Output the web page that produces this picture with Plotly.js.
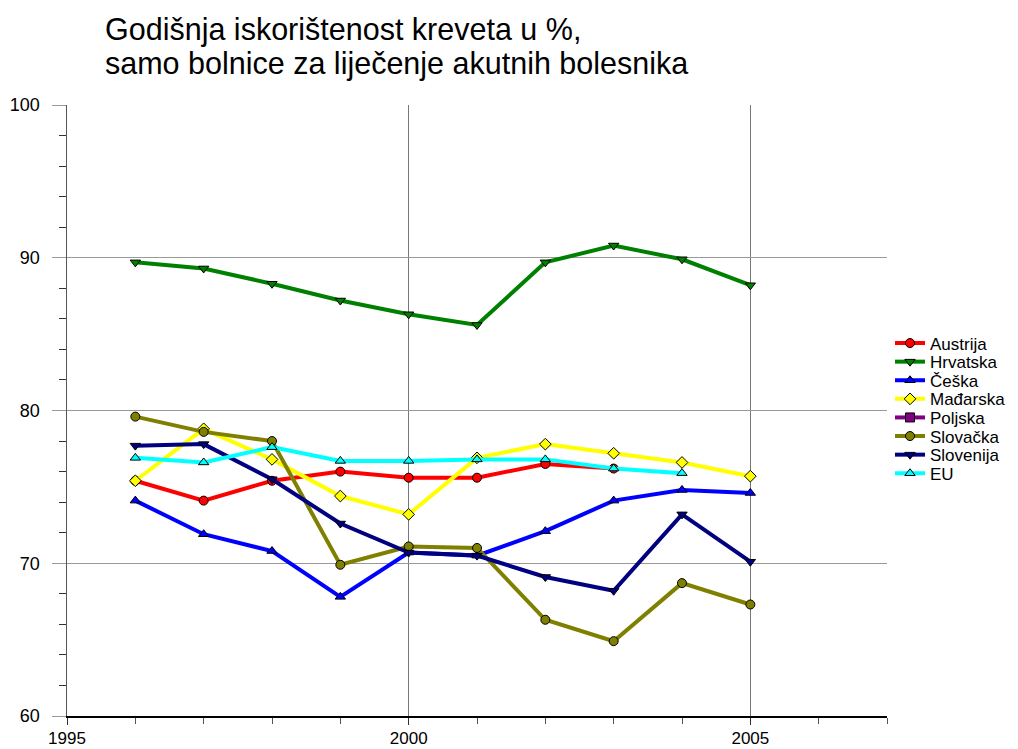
<!DOCTYPE html>
<html>
<head>
<meta charset="utf-8">
<script src="https://cdn.plot.ly/plotly-3.0.1.min.js"></script>
<style>html,body{margin:0;padding:0;background:#fff;}#chart{width:1018px;height:749px;}</style>
</head>
<body>
<div id="chart"></div>
<script>
const years = [1996, 1997, 1998, 1999, 2000, 2001, 2002, 2003, 2004, 2005];
const austrija  = [75.4, 74.1, 75.4, 76.0, 75.6, 75.6, 76.5, 76.2, null, null];
const hrvatska  = [89.7, 89.3, 88.3, 87.2, 86.3, 85.6, 89.7, 90.8, 89.9, 88.2];
const ceska     = [74.1, 71.9, 70.8, 67.8, 70.7, 70.5, 72.1, 74.1, 74.8, 74.6];
const madarska  = [75.4, 78.8, 76.8, 74.4, 73.2, 76.9, 77.8, 77.2, 76.6, 75.7];
const poljska   = [null, null, null, null, null, null, null, null, null, null];
const slovacka  = [79.6, 78.6, 78.0, 69.9, 71.1, 71.0, 66.3, 64.9, 68.7, 67.3];
const slovenija = [77.7, 77.8, 75.5, 72.6, 70.7, 70.5, 69.1, 68.2, 73.2, 70.1];
const eu        = [76.9, 76.6, 77.6, 76.7, 76.7, 76.8, 76.8, 76.2, 75.9, null];

const names   = ["Austrija", "Hrvatska", "Češka", "Mađarska", "Poljska", "Slovačka", "Slovenija", "EU"];
const series  = [austrija, hrvatska, ceska, madarska, poljska, slovacka, slovenija, eu];
const colors  = ["#ff0000", "#008000", "#0000ff", "#ffff00", "#800080", "#808000", "#000080", "#00ffff"];
const symbols = ["circle", "triangle-down", "triangle-up", "diamond", "square", "circle", "triangle-down", "triangle-up"];
const titleLines = ["Godišnja iskorištenost kreveta u %,", "samo bolnice za liječenje akutnih bolesnika"];

const FONT = "Arial, 'Liberation Sans', sans-serif";

const traces = names.map((n, i) => ({
  type: "scatter",
  mode: "lines+markers",
  name: n,
  legend: i === 0 ? "legend" : "legend" + (i + 1),
  x: years,
  y: series[i],
  connectgaps: false,
  line: {color: colors[i], width: 4},
  marker: {symbol: symbols[i], color: colors[i], size: 9, line: {color: "#000", width: 1}}
}));

const layout = {
  width: 1018, height: 749,
  paper_bgcolor: "#fff", plot_bgcolor: "#fff",
  margin: {l: 67, r: 131, t: 105, b: 33, autoexpand: false},
  font: {family: FONT, color: "#000", size: 17},
  title: {
    text: titleLines[0],
    font: {size: 30.5, family: FONT, color: "#000"},
    xref: "container", yref: "container",
    x: 105/1018, xanchor: "left",
    y: 1 - 29/749, yanchor: "middle"
  },
  annotations: [{
    text: titleLines[1],
    font: {size: 30.5, family: FONT, color: "#000"},
    showarrow: false,
    xref: "paper", yref: "paper",
    x: (103 - 67)/820, xanchor: "left",
    y: (716 - 63)/611, yanchor: "middle"
  }],
  showlegend: true,
  xaxis: {
    range: [1995, 2007], tick0: 1995, dtick: 5,
    showgrid: true, gridcolor: "#777", gridwidth: 1,
    zeroline: false,
    showline: true, linecolor: "#000", linewidth: 1.5,
    ticks: "outside", ticklen: 7, tickcolor: "#333",
    ticklabelstandoff: -1,
    tickfont: {size: 17},
    minor: {dtick: 1, ticks: "outside", ticklen: 6, tickcolor: "#555", showgrid: false}
  },
  yaxis: {
    range: [60, 100], tick0: 60, dtick: 10,
    showgrid: true, gridcolor: "#999", gridwidth: 1,
    zeroline: false,
    showline: true, linecolor: "#555", linewidth: 1.5,
    ticks: "outside", ticklen: 14, tickcolor: "#999",
    ticklabelstandoff: 8,
    tickfont: {size: 18},
    minor: {dtick: 2, ticks: "outside", ticklen: 7, tickcolor: "#333", showgrid: false}
  }
};

names.forEach((n, i) => {
  const key = i === 0 ? "legend" : "legend" + (i + 1);
  layout[key] = {
    xref: "container", yref: "container",
    x: 890/1018, xanchor: "left",
    y: 1 - (343.5 + i * 18.6)/749, yanchor: "middle",
    font: {size: 17, family: FONT, color: "#000"},
    bgcolor: "rgba(0,0,0,0)",
    itemwidth: 30
  };
});

Plotly.newPlot("chart", traces, layout, {displayModeBar: false, staticPlot: true});
</script>
</body>
</html>
